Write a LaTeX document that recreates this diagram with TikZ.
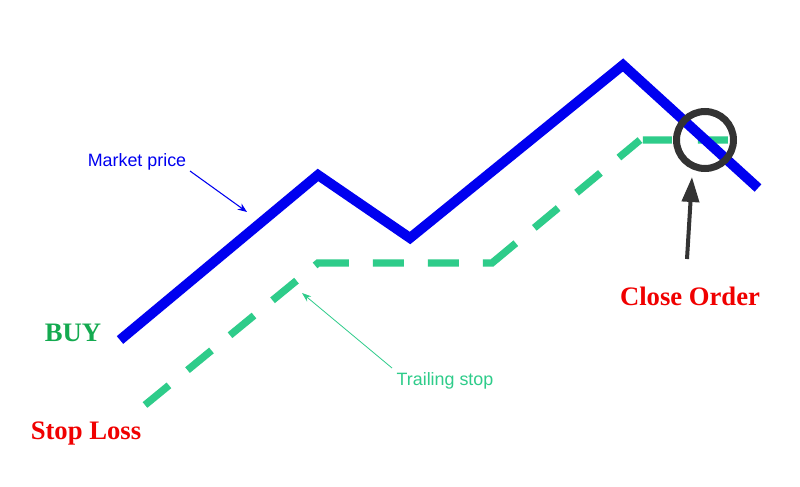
\documentclass[tikz,border=0pt]{standalone}
\usepackage{fontspec}
\setmainfont{Liberation Serif}
\setsansfont{Liberation Sans}
\usetikzlibrary{arrows.meta}
\definecolor{mblue}{RGB}{0,0,240}
\definecolor{tgreen}{RGB}{46,204,138}
\definecolor{buygreen}{RGB}{20,170,80}
\definecolor{cred}{RGB}{240,0,0}
\definecolor{dgray}{RGB}{51,51,51}
\tikzset{
  price/.style={mblue,line width=7.5pt},
  trail/.style={tgreen,line width=5.5pt,
    dash pattern=on 23.25pt off 18pt on 23.25pt off 18pt on 23.25pt off 18pt on 23.25pt off 18pt
      on 26.1pt off 18pt on 23.25pt off 18pt on 23.25pt off 18pt
      on 30pt off 18pt on 23.25pt off 18pt on 23.25pt off 18pt
      on 20.55pt off 2.25pt on 21.75pt off 19.5pt on 22.5pt off 40pt},
  lbl/.style={font=\sffamily\fontsize{13.4}{15}\selectfont,inner sep=0pt},
  big/.style={font=\bfseries\fontsize{20}{24}\selectfont,inner sep=0pt},
}
\begin{document}
\begin{tikzpicture}[x=0.75pt,y=-0.75pt]
\useasboundingbox (0,0) rectangle (800,486);
\fill[white] (0,0) rectangle (800,486);
% coordinates
\coordinate (p0) at (120,340);
\coordinate (p1) at (318,175);
\coordinate (p2) at (410,238);
\coordinate (p3) at (623,65);
\coordinate (p4) at (758,188);
\coordinate (t0) at (145,405);
\coordinate (t1) at (318,263);
\coordinate (t2) at (492,263);
\coordinate (t3) at (640,140);
\coordinate (t4) at (728,140);
\draw[trail] (t0) -- (t1) -- (t2) -- (t3) -- (t4);
\draw[price] (p0) -- (p1) -- (p2) -- (p3) -- (p4);
\node[draw=dgray,line width=5.25pt,circle,minimum size=42.75pt,inner sep=0pt] (circ) at (705,140) {};
% labels
\node[lbl,text=mblue] (mp) at (137,162) {Market price};
\coordinate (mpstart) at (190,171);
\coordinate (mpend) at (247,212);
\draw[mblue,line width=0.8pt,-{Stealth[length=7pt,width=5.5pt]}] (mpstart) -- (mpend);
\node[lbl,text=tgreen] (ts) at (445,381) {Trailing stop};
\coordinate (tsstart) at (392,368);
\coordinate (tsend) at (302,293);
\draw[tgreen,line width=0.6pt,-{Stealth[length=7pt,width=5pt]}] (tsstart) -- (tsend);
\node[big,text=buygreen] (buy) at (73,333) {BUY};
\node[big,text=cred] (sl) at (86,434) {Stop Loss};
\node[big,text=cred] (co) at (690,296) {Close Order};
\coordinate (costart) at (687,259);
\coordinate (coarr) at (692,177);
\draw[dgray,line width=3pt,-{Triangle[length=18.75pt,width=12.75pt]}] (costart) -- (coarr);
\end{tikzpicture}
\end{document}
